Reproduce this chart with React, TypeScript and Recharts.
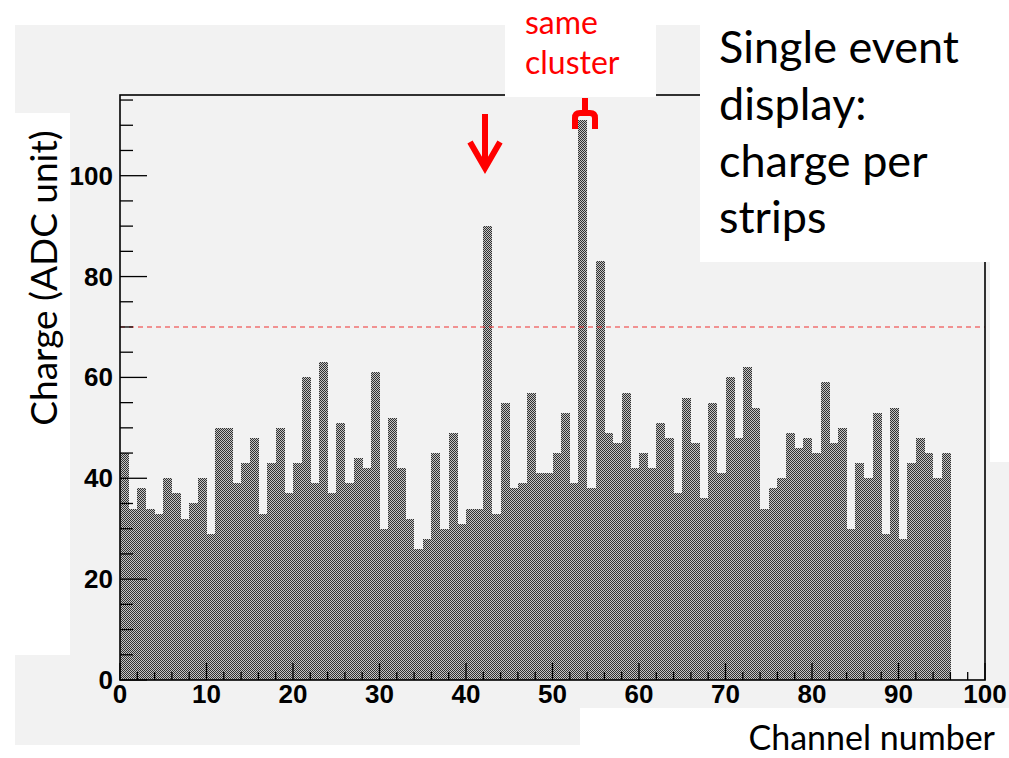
import { BarChart, Bar, XAxis, YAxis, ReferenceLine } from "recharts";

// charge per strip, channels 0..95 (ADC units)
const CHARGE = [
  45, 34, 38, 34, 33, 40, 37, 32, 35, 40,
  29, 50, 50, 39, 43, 48, 33, 43, 50, 37,
  43, 60, 39, 63, 37, 51, 39, 44, 42, 61,
  30, 52, 42, 32, 26, 28, 45, 30, 49, 31,
  34, 34, 90, 33, 55, 38, 39, 57, 41, 41,
  45, 53, 39, 111, 38, 83, 49, 47, 57, 42,
  45, 42, 51, 48, 37, 56, 47, 36, 55, 41,
  60, 48, 62, 54, 34, 38, 40, 49, 46, 48,
  45, 59, 47, 50, 30, 43, 40, 53, 29, 54,
  28, 43, 48, 45, 40, 45,
];
const N_CHANNELS = 100;
const THRESHOLD = 70;
const X_TICKS = [0, 2, 4, 6, 8, 10, 12, 14, 16, 18, 20, 22, 24, 26, 28, 30, 32, 34, 36, 38, 40, 42, 44, 46, 48, 50, 52, 54, 56, 58, 60, 62, 64, 66, 68, 70, 72, 74, 76, 78, 80, 82, 84, 86, 88, 90, 92, 94, 96, 98, 100];
const Y_TICKS = [0, 5, 10, 15, 20, 25, 30, 35, 40, 45, 50, 55, 60, 65, 70, 75, 80, 85, 90, 95, 100, 105, 110, 115];

const data = Array.from({ length: N_CHANNELS }, (_, i) => ({
  ch: i,
  v: i < CHARGE.length ? CHARGE[i] : null,
}));

const W = 1009;
const H = 758;
const PLOT_LEFT = 120;
const PLOT_TOP = 95;
const PLOT_RIGHT = 985;
const PLOT_BOTTOM = 680;
const BG = "#f2f2f2";
const TICK_FONT = "'Liberation Sans', Arial, sans-serif";
const TEXT_FONT = "Lato, 'Open Sans', sans-serif";

function XTick(props: any) {
  const { x, payload } = props;
  const v = payload.value;
  const major = v % 10 === 0;
  return (
    <g>
      <line x1={x} x2={x} y1={PLOT_BOTTOM} y2={PLOT_BOTTOM - (major ? 17 : 8)} stroke="#000" strokeWidth={1.3} />
      {major && (
        <text x={x} y={PLOT_BOTTOM + 23} textAnchor="middle" fontFamily={TICK_FONT} fontWeight="bold" fontSize={26} fill="#000">
          {v}
        </text>
      )}
    </g>
  );
}

function YTick(props: any) {
  const { y, payload } = props;
  const v = payload.value;
  const major = v % 20 === 0;
  return (
    <g>
      <line x1={PLOT_LEFT} x2={PLOT_LEFT + (major ? 27 : 13)} y1={y} y2={y} stroke="#000" strokeWidth={1.3} />
      {major && (
        <text x={PLOT_LEFT - 7} y={y + 9} textAnchor="end" fontFamily={TICK_FONT} fontWeight="bold" fontSize={26} fill="#000">
          {v}
        </text>
      )}
    </g>
  );
}

export default function App() {
  return (
    <div style={{ position: "absolute", left: 0, top: 0, width: W, height: H, background: "#fff", overflow: "hidden" }}>
      <svg width={0} height={0} style={{ position: "absolute" }}>
        <defs>
          <pattern id="hatch" width="2" height="2" patternUnits="userSpaceOnUse">
            <rect width="2" height="2" fill="#c4c4c4" />
            <rect width="1" height="1" fill="#303030" />
            <rect x="1" y="1" width="1" height="1" fill="#303030" />
          </pattern>
        </defs>
      </svg>

      <div style={{ position: "absolute", left: 15, top: 25, width: W - 15, height: 720, background: BG }} />

      <div style={{ position: "absolute", left: 0, top: 0 }}>
        <BarChart
          width={W}
          height={H}
          data={data}
          margin={{ top: PLOT_TOP, right: W - PLOT_RIGHT, bottom: H - PLOT_BOTTOM - 30, left: PLOT_LEFT - 60 }}
          barCategoryGap={0}
          barGap={0}
        >
          <Bar
            dataKey="v"
            xAxisId="cat"
            fill="url(#hatch)"
            shapeRendering="crispEdges"
            isAnimationActive={false}
          />
          <ReferenceLine
            y={THRESHOLD}
            xAxisId="num"
            stroke="#f03030"
            strokeWidth={1.2}
            strokeDasharray="5 4"
          />
          <XAxis xAxisId="cat" dataKey="ch" type="category" hide />
          <XAxis
            xAxisId="num"
            dataKey="ch"
            type="number"
            domain={[0, 100]}
            ticks={X_TICKS}
            interval={0}
            height={30}
            axisLine={false}
            tickLine={false}
            tick={(p: any) => <XTick {...p} />}
          />
          <YAxis
            domain={[0, 116]}
            ticks={Y_TICKS}
            interval={0}
            width={60}
            axisLine={false}
            tickLine={false}
            tick={(p: any) => <YTick {...p} />}
          />
        </BarChart>
      </div>

      <svg width={W} height={H} style={{ position: "absolute", left: 0, top: 0, pointerEvents: "none" }}>
        <rect
          x={PLOT_LEFT}
          y={PLOT_TOP}
          width={PLOT_RIGHT - PLOT_LEFT}
          height={PLOT_BOTTOM - PLOT_TOP}
          fill="none"
          stroke="#000"
          strokeWidth={1.6}
        />
        {/* white boxes from the slide */}
        <rect x={15} y={113} width={55} height={542} fill="#fff" />
        <rect x={580} y={708} width={W - 580} height={H - 708} fill="#fff" />
        <rect x={700} y={0} width={W - 700} height={262} fill="#fff" />
        <rect x={990} y={262} width={W - 990} height={200} fill="#fff" />
        <rect x={505} y={0} width={151} height={97} fill="#fff" />

        <text transform="translate(57,278) rotate(-90)" textAnchor="middle" fontFamily={TEXT_FONT} fontSize={37} fill="#000">
          Charge (ADC unit)
        </text>
        <text x={995} y={750} textAnchor="end" fontFamily={TEXT_FONT} fontSize={34} fill="#000">
          Channel number
        </text>

        <g fontFamily={TEXT_FONT} fontSize={45} fill="#000">
          <text x={719} y={63}>Single event</text>
          <text x={719} y={120}>display:</text>
          <text x={719} y={177}>charge per</text>
          <text x={719} y={233}>strips</text>
        </g>

        <g fontFamily={TEXT_FONT} fontSize={32} fill="#ff0000">
          <text x={525} y={34}>same</text>
          <text x={525} y={74}>cluster</text>
        </g>

        {/* arrow at the isolated strip */}
        <g stroke="#ff0000" strokeWidth={6} fill="none" strokeLinecap="butt">
          <line x1={485} y1={114} x2={485} y2={166} />
          <polyline points="470,142 485,168 500,142" strokeLinejoin="miter" />
        </g>
        {/* bracket over the cluster */}
        <g stroke="#ff0000" strokeWidth={6} fill="none">
          <line x1={585} y1={98} x2={585} y2={113} />
          <path d="M575 129 V118 Q575 113 580 113 H590 Q595 113 595 118 V129" />
        </g>
      </svg>
    </div>
  );
}
